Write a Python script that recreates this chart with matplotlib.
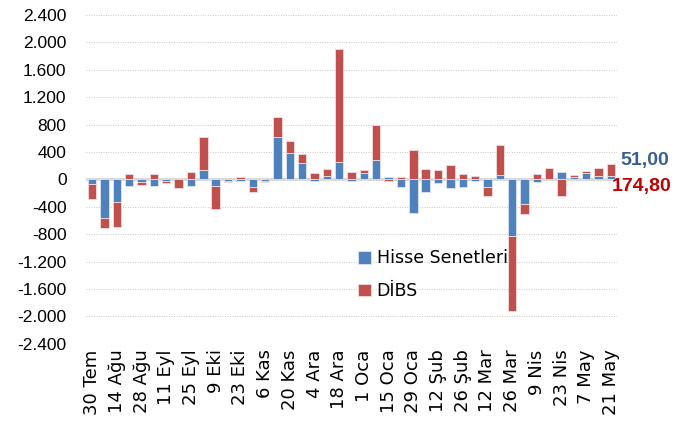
import matplotlib
matplotlib.use("Agg")
import matplotlib.pyplot as plt
import numpy as np
from matplotlib.ticker import FuncFormatter

# weekly dates (every second one is labelled on the axis)
weeks = [
    "30 Tem", "7 Ağu", "14 Ağu", "21 Ağu", "28 Ağu", "4 Eyl", "11 Eyl", "18 Eyl",
    "25 Eyl", "2 Eki", "9 Eki", "16 Eki", "23 Eki", "30 Eki", "6 Kas", "13 Kas",
    "20 Kas", "27 Kas", "4 Ara", "11 Ara", "18 Ara", "25 Ara", "1 Oca", "8 Oca",
    "15 Oca", "22 Oca", "29 Oca", "5 Şub", "12 Şub", "19 Şub", "26 Şub", "5 Mar",
    "12 Mar", "19 Mar", "26 Mar", "2 Nis", "9 Nis", "16 Nis", "23 Nis", "30 Nis",
    "7 May", "14 May", "21 May",
]
hisse = [
    -75, -560, -330, -93, -39, -93, -29, 5, -93, 131, -93, -20, -24, -112,
    -25, 613, 389, 234, -24, 49, 253, -24, 97, 283, 29, -112, -492, -180,
    -58, -127, -112, -20, -112, 68, -822, -365, -44, 5, 112, 29, 92, 49, 51.0,
]
dibs = [
    -210, -156, -365, 83, -39, 83, -29, -125, 112, 487, -346, -24, 29, -68,
    -15, 297, 175, 136, 97, 97, 1655, 112, 34, 506, -24, 29, 423, 146,
    131, 204, 83, 49, -136, 428, -1100, -141, 83, 165, -248, 34, 24, 122, 174.8,
]

blue = "#4F81BD"
red = "#C0504D"

hisse = np.array(hisse, dtype=float)
dibs = np.array(dibs, dtype=float)
x = np.arange(len(weeks))

# stack each series on the same-sign side of the previous one
base_d = np.where(np.sign(dibs) == np.sign(hisse), hisse, 0.0)

fig = plt.figure(figsize=(6.88, 4.25), dpi=100)
ax = fig.add_axes([0.125, 0.191, 0.772, 0.774])

for y in np.arange(-2400, 2401, 400):
    if y != 0:
        ax.axhline(y, color="#C8C8C8", lw=0.7, ls=(0, (1, 1.5)), zorder=0)
ax.axhline(0, color="#D9D9D9", lw=2.2, zorder=1)

w = 0.68
ax.bar(x, hisse, width=w, color=blue, edgecolor="#DCE6F2", lw=0.6,
       label="Hisse Senetleri", zorder=2)
ax.bar(x, dibs, bottom=base_d, width=w, color=red, edgecolor="#F2DCDB", lw=0.6,
       label="DİBS", zorder=2)

ax.set_xlim(-0.5, len(weeks) - 0.5)
ax.set_ylim(-2400, 2400)
ax.set_yticks(np.arange(-2400, 2401, 400))
ax.yaxis.set_major_formatter(FuncFormatter(lambda v, p: f"{v:,.0f}".replace(",", ".")))
ax.set_xticks(x[::2])
ax.set_xticklabels(weeks[::2], rotation=90)
ax.tick_params(axis="both", length=0, colors="#000000")
ax.tick_params(axis="y", pad=14, labelsize=12.5)
ax.tick_params(axis="x", pad=4, labelsize=13)
for lab in ax.get_yticklabels():
    lab.set_fontfamily("Liberation Sans")
for s in ax.spines.values():
    s.set_visible(False)

ax.legend(loc="upper left", bbox_to_anchor=(0.482, 0.335), frameon=False,
          fontsize=12.5, handlelength=0.75, handleheight=0.75, handletextpad=0.35,
          labelspacing=0.85)

ax.annotate(f"{hisse[-1]:.2f}".replace(".", ","), xy=(1.0, 0), xycoords="axes fraction",
            xytext=(1.0 + 3 / 531, (343.7 - 161) / 328.7), textcoords="axes fraction",
            color="#376092", fontsize=14, fontweight="bold", family="Liberation Sans",
            va="center", ha="left")
ax.annotate(f"{dibs[-1]:.2f}".replace(".", ","), xy=(1.0, 0), xycoords="axes fraction",
            xytext=(1.0 - 5 / 531, (343.7 - 186) / 328.7), textcoords="axes fraction",
            color="#C00000", fontsize=14, fontweight="bold", family="Liberation Sans",
            va="center", ha="left")

fig.savefig("out.png", dpi=100)
